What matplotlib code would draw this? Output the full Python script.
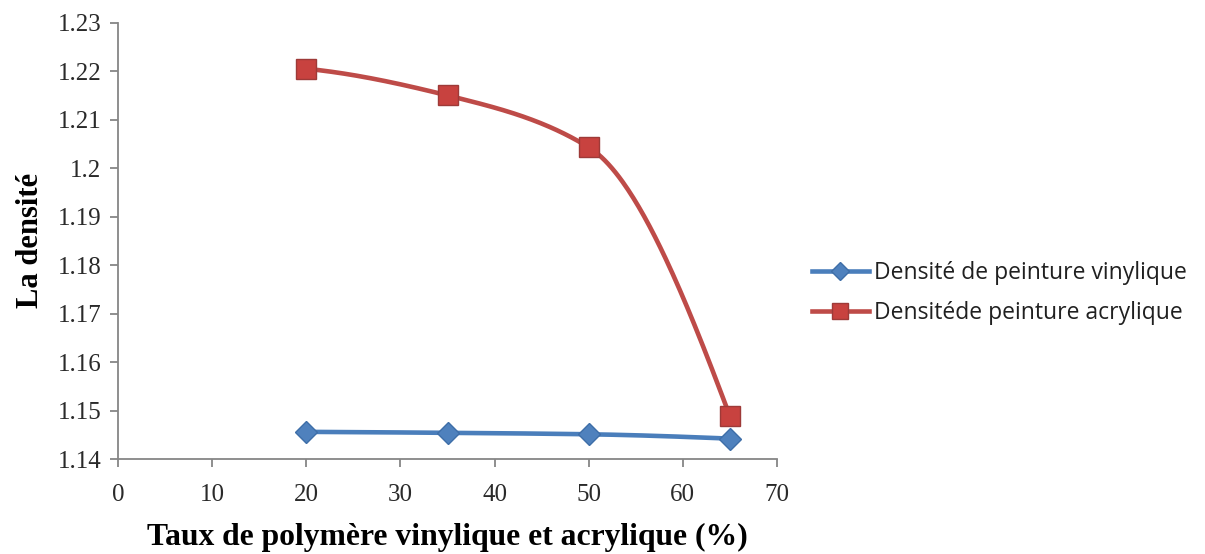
import numpy as np
import matplotlib
matplotlib.use("Agg")
import matplotlib.pyplot as plt
from matplotlib.lines import Line2D

x_vals = [20, 35, 50, 65]
vinyl = [1.1456, 1.1454, 1.1451, 1.1442]
acryl = [1.2205, 1.2150, 1.2043, 1.1488]
series_labels = ["Densité de peinture vinylique", "Densitéde peinture acrylique"]
x_label = "Taux de polymère vinylique et acrylique (%)"
y_label = "La densité"
x_ticks = [0, 10, 20, 30, 40, 50, 60, 70]
y_ticks = [1.14, 1.15, 1.16, 1.17, 1.18, 1.19, 1.20, 1.21, 1.22, 1.23]
y_tick_labels = ["1.14", "1.15", "1.16", "1.17", "1.18", "1.19", "1.2", "1.21", "1.22", "1.23"]


def pchip(xs, ys, n=80):
    """Monotone cubic Hermite smoothing through the data points."""
    x = np.asarray(xs, float)
    y = np.asarray(ys, float)
    h = np.diff(x)
    d = np.diff(y) / h
    m = np.zeros_like(y)
    for k in range(1, len(x) - 1):
        if d[k - 1] * d[k] > 0:
            w1 = 2 * h[k] + h[k - 1]
            w2 = h[k] + 2 * h[k - 1]
            m[k] = (w1 + w2) / (w1 / d[k - 1] + w2 / d[k])
    m[0] = ((2 * h[0] + h[1]) * d[0] - h[0] * d[1]) / (h[0] + h[1])
    if np.sign(m[0]) != np.sign(d[0]):
        m[0] = 0
    m[-1] = ((2 * h[-1] + h[-2]) * d[-1] - h[-1] * d[-2]) / (h[-1] + h[-2])
    if np.sign(m[-1]) != np.sign(d[-1]):
        m[-1] = 0
    px, py = [], []
    for k in range(len(x) - 1):
        t = np.linspace(0, 1, n)
        h00 = 2 * t ** 3 - 3 * t ** 2 + 1
        h10 = t ** 3 - 2 * t ** 2 + t
        h01 = -2 * t ** 3 + 3 * t ** 2
        h11 = t ** 3 - t ** 2
        px.extend(x[k] + t * h[k])
        py.extend(h00 * y[k] + h10 * h[k] * m[k] + h01 * y[k + 1] + h11 * h[k] * m[k + 1])
    return np.array(px), np.array(py)


fig = plt.figure(figsize=(12.05, 5.54), dpi=100)
ax = fig.add_axes([118 / 1205, 1 - 459 / 554, (777 - 118) / 1205, (459 - 22.7) / 554])

blue_line, blue_mk, blue_edge = "#4A7EBB", "#4F81BD", "#3E6EA8"
red_line, red_mk, red_edge = "#BE4B48", "#C8423F", "#9E3A38"

sx, sy = pchip(x_vals, vinyl)
ax.plot(sx, sy, color=blue_line, lw=3.3, solid_capstyle="round", zorder=2)
ax.plot(x_vals, vinyl, ls="none", marker="D", ms=11.5, mfc=blue_mk, mec=blue_edge, mew=1, zorder=3)

sx, sy = pchip(x_vals, acryl)
ax.plot(sx, sy, color=red_line, lw=3.3, solid_capstyle="round", zorder=2)
ax.plot(x_vals, acryl, ls="none", marker="s", ms=14.5, mfc=red_mk, mec=red_edge, mew=1, zorder=3)

ax.set_xlim(0, 70)
ax.set_ylim(1.14, 1.23)
ax.set_xticks(x_ticks)
ax.set_yticks(y_ticks)
ax.set_yticklabels(y_tick_labels)

for s in ["top", "right"]:
    ax.spines[s].set_visible(False)
for s in ["left", "bottom"]:
    ax.spines[s].set_color("#868686")
    ax.spines[s].set_linewidth(1.3)

ax.tick_params(axis="both", direction="out", length=6, width=1.3, color="#868686",
               labelsize=18, labelcolor="#2a2a2a")
ax.tick_params(axis="x", pad=12)
ax.tick_params(axis="y", pad=6)
for lbl in ax.get_xticklabels() + ax.get_yticklabels():
    lbl.set_fontfamily("Liberation Serif")

ax.set_xlabel(x_label, fontfamily="Liberation Serif", fontweight="bold", fontsize=22.8, labelpad=12)
ax.set_ylabel(y_label, fontfamily="Liberation Serif", fontweight="bold", fontsize=22, labelpad=9)

handles = [
    Line2D([], [], color=blue_line, lw=3.3, marker="D", ms=9.5, mfc=blue_mk, mec=blue_edge),
    Line2D([], [], color=red_line, lw=3.3, marker="s", ms=11, mfc=red_mk, mec=red_edge),
]
leg = fig.legend(handles, series_labels, loc="center left", bbox_to_anchor=(791 / 1205, 1 - 293 / 554),
                 frameon=False, prop={"family": "Open Sans", "size": 16.5}, handlelength=2.5,
                 handletextpad=0.2, labelspacing=0.7, labelcolor="#202020")

fig.savefig("out.png", dpi=100)
